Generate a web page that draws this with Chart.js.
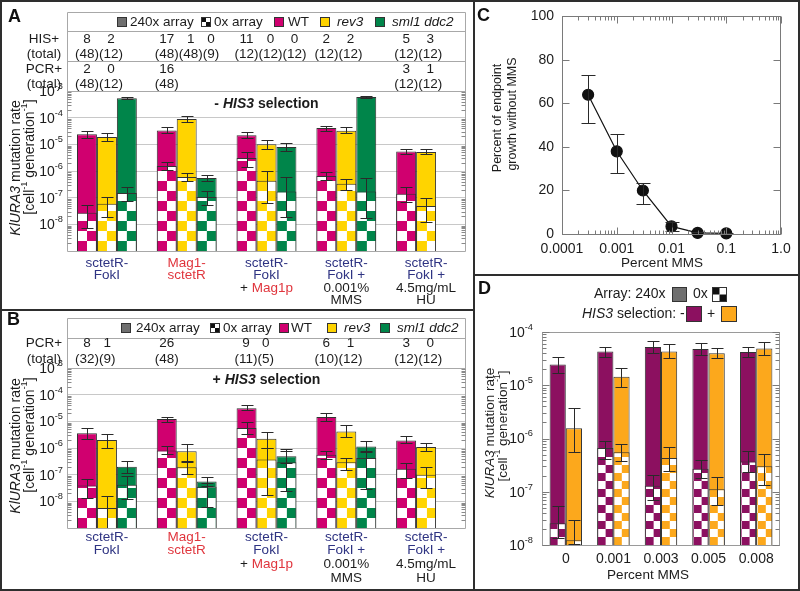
<!DOCTYPE html>
<html lang="en">
<head>
<meta charset="UTF-8">
<meta name="viewport" content="width=device-width, initial-scale=1.0">
<title>KlURA3 mutation rates near the tetO array</title>
<script src="https://cdn.jsdelivr.net/npm/chart.js"></script>
<style>
  body { margin: 0; background: #fff; }
  #figure { position: relative; width: 800px; height: 591px; overflow: hidden; background: #fff; }
  #figure canvas { position: absolute; }
  .rule { position: absolute; background: #2e2e2e; }
</style>
</head>
<body>
<div id="figure">
  <canvas id="chartA" width="473" height="310" style="left:0;top:0"></canvas>
  <canvas id="chartB" width="473" height="281" style="left:0;top:310px"></canvas>
  <canvas id="chartC" width="327" height="275" style="left:473px;top:0"></canvas>
  <canvas id="chartD" width="327" height="316" style="left:473px;top:275px"></canvas>
  <!-- panel frames -->
  <div class="rule" style="left:0;top:0;width:800px;height:2px"></div>
  <div class="rule" style="left:0;top:589px;width:800px;height:2px"></div>
  <div class="rule" style="left:0;top:0;width:2px;height:591px"></div>
  <div class="rule" style="left:798px;top:0;width:2px;height:591px"></div>
  <div class="rule" style="left:473px;top:0;width:2px;height:591px"></div>
  <div class="rule" style="left:0;top:309px;width:474px;height:2px"></div>
  <div class="rule" style="left:474px;top:274px;width:326px;height:2px"></div>
</div>

<script>
    const FONT = '"Liberation Sans", Arial, Helvetica, sans-serif';
    const INK = '#1c1c1c', EDGE = '#333333', BOX = '#a8a8a8', GRID = '#c8c8c8';
    const BLUE = '#2e3382', RED = '#e0353d';
    const WT_COLOR = '#d0006f', REV3_COLOR = '#ffd400', SML1_COLOR = '#00854a', ARRAY_GRAY = '#6f6f6f';
    const MINUS_COLOR = '#8c1060', PLUS_COLOR = '#fca81c';

    // ---------- categories and tick labels ----------
    const strains = ['sctetR-FokI', 'Mag1-sctetR', 'sctetR-FokI + Mag1p', 'sctetR-FokI + 0.001% MMS', 'sctetR-FokI + 4.5mg/mL HU'];
    // how each strain name is split and coloured under the bars
    const strainLines = [
        [[['sctetR-', BLUE]], [['FokI', BLUE]]],
        [[['Mag1-', RED]], [['sctetR', RED]]],
        [[['sctetR-', BLUE]], [['FokI', BLUE]], [['+ ', INK], ['Mag1p', RED]]],
        [[['sctetR-', BLUE]], [['FokI +', BLUE]], [['0.001%', INK]], [['MMS', INK]]],
        [[['sctetR-', BLUE]], [['FokI +', BLUE]], [['4.5mg/mL', INK]], [['HU', INK]]]
    ];
    const rateExponentsAB = [-3, -4, -5, -6, -7, -8];
    const rateExponentsD = [-4, -5, -6, -7, -8];
    const mmsLevels = ['0', '0.001', '0.003', '0.005', '0.008'];
    const mmsTicks = [0.0001, 0.001, 0.01, 0.1, 1];
    const mmsTickLabels = ['0.0001', '0.001', '0.01', '0.1', '1.0'];

    // ---------- panel A : - HIS3 selection ----------
    const aWT240 = [2.4e-5, 3.3e-5, 2.2e-5, 4.1e-5, 5.4e-6];
    const aWT240Err = [[1.7e-5, 3.2e-5], [2.7e-5, 4.5e-5], [1.7e-5, 2.9e-5], [3.2e-5, 4.9e-5], [4.4e-6, 6.7e-6]];
    const aWT0 = [2.7e-8, 1.55e-6, 3.1e-6, 6.5e-7, 1.4e-7];
    const aWT0Err = [[7.4e-9, 5.4e-8], [1.1e-6, 2.2e-6], [1.4e-6, 5.2e-6], [4.5e-7, 9e-7], [7e-8, 2.5e-7]];
    const aRev240 = [1.9e-5, 8.9e-5, 1.0e-5, 3.2e-5, 5.2e-6];
    const aRev240Err = [[1.35e-5, 2.7e-5], [6.9e-5, 1.15e-4], [6.8e-6, 1.45e-5], [2.6e-5, 4.5e-5], [4.2e-6, 6.5e-6]];
    const aRev0 = [5.9e-8, 6e-7, 4.3e-7, 3.3e-7, 4.9e-8];
    const aRev0Err = [[1.9e-8, 1.07e-7], [4.3e-7, 8.5e-7], [6.5e-8, 1e-6], [2e-7, 5e-7], [1.2e-8, 1e-7]];
    const aSml240 = [5.4e-4, 5.5e-7, 7.9e-6, 6e-4, null];
    const aSml240Err = [[5.0e-4, 5.8e-4], [4.3e-7, 7.1e-7], [5.6e-6, 1.1e-5], [5.6e-4, 6.5e-4], null];
    const aSml0 = [1.5e-7, 1.07e-7, 1.7e-7, 1.7e-7, null];
    const aSml0Err = [[7.6e-8, 2.5e-7], [5.4e-8, 1.8e-7], [1.9e-8, 6e-7], [1.8e-8, 5.5e-7], null];
    const aHisCounts = [['8', '2'], ['17', '1', '0'], ['11', '0', '0'], ['2', '2'], ['5', '3']];
    const aHisTotals = [['48', '12'], ['48', '48', '9'], ['12', '12', '12'], ['12', '12'], ['12', '12']];
    const aPcrCounts = [['2', '0'], ['16'], [], [], ['3', '1']];
    const aPcrTotals = [['48', '12'], ['48'], [], [], ['12', '12']];

    // ---------- panel B : + HIS3 selection ----------
    const bWT240 = [3.6e-6, 1.23e-5, 3.1e-5, 1.45e-5, 1.9e-6];
    const bWT240Err = [[2.2e-6, 5.6e-6], [9.2e-6, 1.45e-5], [2.6e-5, 4e-5], [1e-5, 2.1e-5], [1.5e-6, 2.7e-6]];
    const bWT0 = [3.9e-8, 8.1e-7, 5.6e-6, 5.6e-7, 1.65e-7];
    const bWT0Err = [[1.3e-8, 6.9e-8], [6.1e-7, 1.2e-6], [3.4e-6, 9.2e-6], [3.9e-7, 8e-7], [7.8e-8, 2.8e-7]];
    const bRev240 = [2e-6, 7.5e-7, 2.2e-6, 4.2e-6, 1.1e-6];
    const bRev240Err = [[1e-6, 3.4e-6], [2.9e-7, 1.4e-6], [1e-6, 3.9e-6], [2.6e-6, 7.1e-6], [7.8e-7, 1.6e-6]];
    const bRev0 = [5.6e-9, 1.9e-7, 3.7e-7, 2.9e-7, 1e-7];
    const bRev0Err = [[1e-9, 1.6e-8], [1.05e-7, 3.2e-7], [1.8e-8, 1e-6], [1.5e-7, 4.2e-7], [3.1e-8, 1.9e-7]];
    const bSml240 = [2e-7, 5.6e-8, 4.9e-7, 1.15e-6, null];
    const bSml240Err = [[1.2e-7, 3.2e-7], [3.6e-8, 7.9e-8], [2.7e-7, 9.4e-7], [7.1e-7, 1.9e-6], null];
    const bSml0 = [4.2e-8, 3.5e-8, 2.9e-7, 4.2e-7, null];
    const bSml0Err = [[1.2e-8, 9e-8], [6.1e-9, 4.7e-8], [2.5e-8, 7.5e-7], [2.9e-8, 7.4e-7], null];
    const bPcrCounts = [['8', '1'], ['26'], ['9', '0'], ['6', '1'], ['3', '0']];
    const bPcrTotals = [['32', '9'], ['48'], ['11', '5'], ['10', '12'], ['12', '12']];

    // ---------- panel C : growth in MMS ----------
    const mmsPercent = [0.0003, 0.001, 0.003, 0.01, 0.03, 0.1];
    const growthPct = [64, 38, 20, 3.5, 0.5, 0.3];
    const growthErr = [[51, 73], [28, 46], [14, 23.5], [1.5, 5.6], [0.2, 0.8], [0.1, 0.5]];

    // ---------- panel D : WT in MMS, - / + HIS3 selection ----------
    const dMinus240 = [2.46e-5, 4.3e-5, 5.2e-5, 4.8e-5, 4.2e-5];
    const dMinus240Err = [[1.7e-5, 3.35e-5], [3.4e-5, 5.3e-5], [4e-5, 6.9e-5], [3.7e-5, 6.1e-5], [3.4e-5, 5.2e-5]];
    const dMinus0 = [2.57e-8, 6.6e-7, 1.3e-7, 2.7e-7, 3.7e-7];
    const dMinus0Err = [[1.35e-8, 5.5e-8], [4.1e-7, 9.1e-7], [7.1e-8, 2.1e-7], [1.8e-7, 4e-7], [2.3e-7, 5.7e-7]];
    const dPlus240 = [1.55e-6, 1.45e-5, 4.3e-5, 4e-5, 4.9e-5];
    const dPlus240Err = [[5.5e-7, 3.7e-6], [9.4e-6, 2.1e-5], [3.2e-5, 5.9e-5], [3.2e-5, 4.9e-5], [3.7e-5, 6.6e-5]];
    const dPlus0 = [1.23e-8, 5.5e-7, 4.3e-7, 1.12e-7, 3e-7];
    const dPlus0Err = [[1.05e-8, 2.9e-8], [3.7e-7, 7.9e-7], [2.5e-7, 6.9e-7], [5.6e-8, 1.9e-7], [1.35e-7, 5.1e-7]];

    const legendItems = [
        { text: '240x array', fill: ARRAY_GRAY },
        { text: '0x array', fill: null },
        { text: 'WT', fill: WT_COLOR },
        { text: 'rev3', fill: REV3_COLOR, italic: true },
        { text: 'sml1 ddc2', fill: SML1_COLOR, italic: true }
    ];
    const rateTitle1 = [{ t: 'KlURA3', i: 1 }, { t: ' mutation rate' }];
    const rateTitle2 = [{ t: '[cell' }, { t: '-1', sup: 1 }, { t: ' generation' }, { t: '-1', sup: 1 }, { t: ']' }];

    // ---------- drawing helpers ----------
    function partFont(p, size) {
        return (p.i ? 'italic ' : '') + (p.b ? 'bold ' : '') + (p.sup ? size * 0.66 : size) + 'px ' + FONT;
    }

    function drawRich(c, parts, x, y, align, size) {
        let w = 0;
        parts.forEach(p => { c.font = partFont(p, size); w += c.measureText(p.t).width; });
        let cx = align === 'center' ? x - w / 2 : (align === 'right' ? x - w : x);
        c.textAlign = 'left';
        c.textBaseline = 'middle';
        parts.forEach(p => {
            c.font = partFont(p, size);
            c.fillStyle = p.c || INK;
            c.fillText(p.t, cx, p.sup ? y - size * 0.4 : y);
            cx += c.measureText(p.t).width;
        });
    }

    function drawRotated(c, parts, x, y, size) {
        c.save();
        c.translate(x, y);
        c.rotate(-Math.PI / 2);
        drawRich(c, parts, 0, 0, 'center', size);
        c.restore();
    }

    function swatch(c, x, y, s, fill) {
        if (fill) {
            c.fillStyle = fill;
            c.fillRect(x, y, s, s);
        } else {
            c.fillStyle = '#fff';
            c.fillRect(x, y, s, s);
            c.fillStyle = '#111';
            c.fillRect(x, y, s / 2, s / 2);
            c.fillRect(x + s / 2, y + s / 2, s / 2, s / 2);
        }
        c.strokeStyle = '#333';
        c.lineWidth = 1;
        c.strokeRect(x + 0.5, y + 0.5, s - 1, s - 1);
    }

    function letter(c, ch, x, y) {
        c.font = 'bold 18px ' + FONT;
        c.fillStyle = '#111';
        c.textAlign = 'left';
        c.textBaseline = 'alphabetic';
        c.fillText(ch, x, y);
    }

    function checkerPattern(color, sq) {
        const cv = document.createElement('canvas');
        cv.width = cv.height = sq * 2;
        const g = cv.getContext('2d');
        g.fillStyle = '#fff';
        g.fillRect(0, 0, sq * 2, sq * 2);
        g.fillStyle = color;
        g.fillRect(sq, 0, sq, sq);
        g.fillRect(0, sq, sq, sq);
        return g.createPattern(cv, 'repeat');
    }

    function decades(lo, hi) {
        const out = [];
        for (let e = lo; e <= hi; e++) out.push({ value: Math.pow(10, e) });
        return out;
    }

    // line the checker squares up with the left edge and foot of each bar
    const checkerAlign = {
        id: 'checkerAlign',
        beforeDatasetsDraw(chart) {
            chart.data.datasets.forEach((ds, di) => {
                if (!ds.checker) return;
                const el = chart.getDatasetMeta(di).data.find(d => d && isFinite(d.x));
                if (!el) return;
                ds.backgroundColor.setTransform(new DOMMatrix().translate(el.x - el.width / 2, chart.chartArea.bottom));
            });
        }
    };

    const errorBars = {
        id: 'errorBars',
        afterDatasetsDraw(chart) {
            const c = chart.ctx, a = chart.chartArea, ys = chart.scales.y;
            c.save();
            c.beginPath();
            c.rect(a.left, a.top - 2, a.right - a.left, a.bottom - a.top + 3);
            c.clip();
            c.strokeStyle = '#2a2a2a';
            c.lineWidth = 1;
            chart.data.datasets.forEach((ds, di) => {
                if (!ds.errors) return;
                const meta = chart.getDatasetMeta(di);
                const half = (ds.capWidth || 12) / 2;
                ds.errors.forEach((e, i) => {
                    const el = meta.data[i];
                    if (!e || !el) return;
                    const x = Math.round(el.x) + 0.5;
                    const y1 = Math.round(ys.getPixelForValue(e[0])) + 0.5;
                    const y2 = Math.round(ys.getPixelForValue(e[1])) + 0.5;
                    c.beginPath();
                    c.moveTo(x, y1); c.lineTo(x, y2);
                    c.moveTo(x - half, y1); c.lineTo(x + half, y1);
                    c.moveTo(x - half, y2); c.lineTo(x + half, y2);
                    c.stroke();
                });
            });
            c.restore();
        }
    };

    function barDatasets(genotypes, yMin, sq, cap) {
        const list = [];
        genotypes.forEach(g => list.push({
            label: g.name + ' 0x array', stack: g.name, order: 0, checker: true,
            data: g.v0.map(v => v == null ? null : [yMin, v]),
            backgroundColor: checkerPattern(g.color, sq),
            borderColor: EDGE, borderWidth: 1, errors: g.e0, capWidth: cap
        }));
        genotypes.forEach(g => list.push({
            label: g.name + ' 240x array', stack: g.name, order: 1,
            data: g.v240.map(v => v == null ? null : [yMin, v]),
            backgroundColor: g.color,
            borderColor: EDGE, borderWidth: 1, errors: g.e240, capWidth: cap
        }));
        return list;
    }

    // legend strip, count table, axis text for panels A and B
    function drawMutationDecor(chart, o) {
        const c = chart.ctx, a = chart.chartArea, xs = chart.scales.x, ys = chart.scales.y;
        const L = Math.round(a.left) + 0.5, R = Math.round(a.right) - 0.5, B = Math.round(a.bottom) + 0.5;
        c.save();
        c.lineWidth = 1;
        c.strokeStyle = BOX;
        c.beginPath();
        c.moveTo(L, o.boxTop + 0.5); c.lineTo(R, o.boxTop + 0.5); c.lineTo(R, B); c.lineTo(L, B); c.closePath();
        o.rowLines.concat([Math.round(a.top)]).forEach(v => { c.moveTo(L, v + 0.5); c.lineTo(R, v + 0.5); });
        c.stroke();

        // minor log ticks, inside both edges
        c.strokeStyle = '#8a8a8a';
        c.beginPath();
        for (let e = -9; e < -3; e++) {
            for (let k = 2; k < 10; k++) {
                const py = Math.round(ys.getPixelForValue(k * Math.pow(10, e))) + 0.5;
                c.moveTo(L, py); c.lineTo(L + 4, py);
                c.moveTo(R, py); c.lineTo(R - 4, py);
            }
        }
        c.stroke();

        rateExponentsAB.forEach(e => {
            drawRich(c, [{ t: '10' }, { t: String(e), sup: 1 }], a.left - 4, ys.getPixelForValue(Math.pow(10, e)) + 1, 'right', 14);
        });
        drawRotated(c, rateTitle1, 16, o.title1Y, 14);
        drawRotated(c, rateTitle2, 30, o.title2Y, 14);
        drawRich(c, o.title, (a.left + a.right) / 2, a.top + o.titleDy, 'center', 14);

        // legend strip
        legendItems.forEach((it, i) => {
            swatch(c, o.swatchX[i], o.legendY - 5, 10, it.fill);
            drawRich(c, [{ t: it.text, i: it.italic }], o.textX[i], o.legendY, 'left', 13.5);
        });

        // HIS+ / PCR+ counts over their totals
        const firstBars = chart.getDatasetMeta(0).data;
        o.rows.forEach(row => {
            drawRich(c, [{ t: row.name }], 44, row.y[0], 'center', 13.5);
            drawRich(c, [{ t: '(total)' }], 44, row.y[1], 'center', 13.5);
            row.totals.forEach((tot, g) => {
                const el = firstBars[g];
                let cx = el.x - el.width / 2 - 2;
                tot.forEach((t, j) => {
                    c.font = '13.5px ' + FONT;
                    const s = '(' + t + ')', w = c.measureText(s).width;
                    drawRich(c, [{ t: s }], cx, row.y[1], 'left', 13.5);
                    drawRich(c, [{ t: row.counts[g][j] }], cx + w / 2, row.y[0], 'center', 13.5);
                    cx += w;
                });
            });
        });

        // strain names under the groups
        strainLines.forEach((lines, g) => {
            const px = xs.getPixelForValue(g);
            lines.forEach((segs, k) => {
                drawRich(c, segs.map(s => ({ t: s[0], c: s[1] })), px, a.bottom + o.catTop + k * o.catStep, 'center', 13.5);
            });
        });
        letter(c, o.letter, o.letterX, o.letterY);
        c.restore();
    }

    function mutationPanel(id, genotypes, o) {
        return new Chart(document.getElementById(id), {
            type: 'bar',
            data: { labels: strains, datasets: barDatasets(genotypes, 1e-9, 10, 12) },
            options: {
                responsive: false, animation: false, devicePixelRatio: 1,
                layout: { padding: o.padding },
                datasets: { bar: { categoryPercentage: 0.75, barPercentage: 1 } },
                plugins: { legend: { display: false }, tooltip: { enabled: false } },
                scales: {
                    x: {
                        stacked: true,
                        afterFit: s => { s.height = 0; },
                        ticks: { display: false },
                        grid: { display: false, drawTicks: false },
                        border: { display: false }
                    },
                    y: {
                        type: 'logarithmic', min: 1e-9, max: 1e-3, stacked: false,
                        afterFit: s => { s.width = 0; },
                        afterBuildTicks: s => { s.ticks = decades(-9, -3); },
                        ticks: { display: false },
                        grid: {
                            drawTicks: false,
                            color: ctx => (ctx.tick && ctx.tick.value > 2e-9 && ctx.tick.value < 5e-4) ? GRID : 'rgba(0,0,0,0)'
                        },
                        border: { display: false }
                    }
                }
            },
            plugins: [checkerAlign, errorBars, { id: 'decor' + id, afterDraw: chart => drawMutationDecor(chart, o) }]
        });
    }

    const genotypesA = [
        { name: 'WT', color: WT_COLOR, v240: aWT240, e240: aWT240Err, v0: aWT0, e0: aWT0Err },
        { name: 'rev3', color: REV3_COLOR, v240: aRev240, e240: aRev240Err, v0: aRev0, e0: aRev0Err },
        { name: 'sml1 ddc2', color: SML1_COLOR, v240: aSml240, e240: aSml240Err, v0: aSml0, e0: aSml0Err }
    ];
    const genotypesB = [
        { name: 'WT', color: WT_COLOR, v240: bWT240, e240: bWT240Err, v0: bWT0, e0: bWT0Err },
        { name: 'rev3', color: REV3_COLOR, v240: bRev240, e240: bRev240Err, v0: bRev0, e0: bRev0Err },
        { name: 'sml1 ddc2', color: SML1_COLOR, v240: bSml240, e240: bSml240Err, v0: bSml0, e0: bSml0Err }
    ];

    mutationPanel('chartA', genotypesA, {
        padding: { left: 67, right: 7, top: 91, bottom: 59 },
        boxTop: 12, rowLines: [31, 61], legendY: 22,
        swatchX: [117, 201, 274, 320, 375], textX: [130, 214, 288, 337, 392],
        rows: [
            { name: 'HIS+', counts: aHisCounts, totals: aHisTotals, y: [39, 54] },
            { name: 'PCR+', counts: aPcrCounts, totals: aPcrTotals, y: [69, 84] }
        ],
        title: [{ t: '- ', b: 1 }, { t: 'HIS3', b: 1, i: 1 }, { t: ' selection', b: 1 }], titleDy: 13,
        title1Y: 168, title2Y: 157, catTop: 12, catStep: 12.5,
        letter: 'A', letterX: 8, letterY: 22
    });

    mutationPanel('chartB', genotypesB, {
        padding: { left: 67, right: 7, top: 58, bottom: 63 },
        boxTop: 8, rowLines: [28], legendY: 18,
        swatchX: [121, 210, 279, 327, 380], textX: [136, 223, 291, 344, 397],
        rows: [
            { name: 'PCR+', counts: bPcrCounts, totals: bPcrTotals, y: [33, 49] }
        ],
        title: [{ t: '+ ', b: 1 }, { t: 'HIS3', b: 1, i: 1 }, { t: ' selection', b: 1 }], titleDy: 12,
        title1Y: 136, title2Y: 125, catTop: 9, catStep: 13.7,
        letter: 'B', letterX: 7, letterY: 15
    });

    // ---------- panel C ----------
    new Chart(document.getElementById('chartC'), {
        type: 'scatter',
        data: {
            datasets: [{
                label: 'Percent of endpoint growth without MMS',
                data: mmsPercent.map((v, i) => ({ x: v, y: growthPct[i] })),
                showLine: true, clip: false,
                borderColor: '#111', borderWidth: 1.2,
                pointRadius: 5.5, pointBackgroundColor: '#111', pointBorderColor: '#111',
                errors: growthErr, capWidth: 14
            }]
        },
        options: {
            responsive: false, animation: false, devicePixelRatio: 1,
            layout: { padding: { left: 0, right: 19, top: 15, bottom: 0 } },
            plugins: { legend: { display: false }, tooltip: { enabled: false } },
            scales: {
                x: {
                    type: 'logarithmic', min: 0.0001, max: 1,
                    afterFit: s => { s.height = 41; },
                    afterBuildTicks: s => { s.ticks = mmsTicks.map(v => ({ value: v })); },
                    ticks: {
                        callback: (v, i) => mmsTickLabels[i], autoSkip: false, maxRotation: 0,
                        font: { family: FONT, size: 14 }, color: INK, padding: 7
                    },
                    grid: { display: false, drawTicks: false },
                    border: { display: false }
                },
                y: {
                    min: 0, max: 100,
                    afterFit: s => { s.width = 89; },
                    ticks: { stepSize: 20, font: { family: FONT, size: 14 }, color: INK, padding: 8 },
                    grid: { display: false, drawTicks: false },
                    border: { display: false }
                }
            }
        },
        plugins: [errorBars, {
            id: 'decorC',
            afterDraw(chart) {
                const c = chart.ctx, a = chart.chartArea, xs = chart.scales.x, ys = chart.scales.y;
                const L = Math.round(a.left) + 0.5, R = Math.round(a.right) - 0.5;
                const T = Math.round(a.top) + 0.5, B = Math.round(a.bottom) + 0.5;
                c.save();
                c.strokeStyle = '#7a7a7a';
                c.lineWidth = 1;
                c.strokeRect(L, T, R - L, B - T);
                c.beginPath();
                for (let e = -4; e <= 0; e++) {
                    for (let k = 1; k < 10; k++) {
                        const v = k * Math.pow(10, e);
                        if (v > 1.0001) break;
                        const px = Math.round(xs.getPixelForValue(v)) + 0.5, len = k === 1 ? 7 : 4;
                        c.moveTo(px, B); c.lineTo(px, B - len);
                        c.moveTo(px, T); c.lineTo(px, T + len);
                    }
                }
                ys.ticks.forEach(t => {
                    const py = Math.round(ys.getPixelForValue(t.value)) + 0.5;
                    c.moveTo(L, py); c.lineTo(L + 7, py);
                    c.moveTo(R, py); c.lineTo(R - 7, py);
                });
                c.stroke();
                drawRotated(c, [{ t: 'Percent of endpoint' }], 25, 118, 12.5);
                drawRotated(c, [{ t: 'growth without MMS' }], 40, 114, 12.5);
                drawRich(c, [{ t: 'Percent MMS' }], 189, 263, 'center', 13.5);
                letter(c, 'C', 4, 21);
                c.restore();
            }
        }]
    });

    // ---------- panel D ----------
    const genotypesD = [
        { name: '- HIS3', color: MINUS_COLOR, v240: dMinus240, e240: dMinus240Err, v0: dMinus0, e0: dMinus0Err },
        { name: '+ HIS3', color: PLUS_COLOR, v240: dPlus240, e240: dPlus240Err, v0: dPlus0, e0: dPlus0Err }
    ];

    new Chart(document.getElementById('chartD'), {
        type: 'bar',
        data: { labels: mmsLevels, datasets: barDatasets(genotypesD, 1e-8, 8, 12) },
        options: {
            responsive: false, animation: false, devicePixelRatio: 1,
            layout: { padding: { left: 69, right: 20, top: 57, bottom: 0 } },
            datasets: { bar: { categoryPercentage: 0.68, barPercentage: 1 } },
            plugins: { legend: { display: false }, tooltip: { enabled: false } },
            scales: {
                x: {
                    stacked: true,
                    afterFit: s => { s.height = 46; },
                    ticks: { font: { family: FONT, size: 14 }, color: INK, padding: 6, maxRotation: 0 },
                    grid: { display: false, drawTicks: false },
                    border: { display: false }
                },
                y: {
                    type: 'logarithmic', min: 1e-8, max: 1e-4, stacked: false,
                    afterFit: s => { s.width = 0; },
                    afterBuildTicks: s => { s.ticks = decades(-8, -4); },
                    ticks: { display: false },
                    grid: { display: false, drawTicks: false },
                    border: { display: false }
                }
            }
        },
        plugins: [checkerAlign, errorBars, {
            id: 'decorD',
            afterDraw(chart) {
                const c = chart.ctx, a = chart.chartArea, ys = chart.scales.y;
                const L = Math.round(a.left) + 0.5, R = Math.round(a.right) - 0.5;
                const T = Math.round(a.top) + 0.5, B = Math.round(a.bottom) + 0.5;
                c.save();
                c.strokeStyle = '#9a9a9a';
                c.lineWidth = 1;
                c.strokeRect(L, T, R - L, B - T);
                c.strokeStyle = '#7a7a7a';
                c.beginPath();
                for (let e = -8; e <= -4; e++) {
                    for (let k = 1; k < 10; k++) {
                        if (e === -4 && k > 1) break;
                        const py = Math.round(ys.getPixelForValue(k * Math.pow(10, e))) + 0.5, len = k === 1 ? 7 : 4;
                        c.moveTo(L, py); c.lineTo(L + len, py);
                        c.moveTo(R, py); c.lineTo(R - len, py);
                    }
                }
                c.stroke();
                rateExponentsD.forEach(e => {
                    drawRich(c, [{ t: '10' }, { t: String(e), sup: 1 }], a.left - 9, ys.getPixelForValue(Math.pow(10, e)) + 1, 'right', 14);
                });
                drawRotated(c, rateTitle1, 17, 158, 13.5);
                drawRotated(c, rateTitle2, 30, 151, 13.5);
                drawRich(c, [{ t: 'Percent MMS' }], 175, 300, 'center', 13.5);

                // legend
                drawRich(c, [{ t: 'Array: 240x' }], 121, 19, 'left', 14);
                swatch(c, 199, 12, 15, ARRAY_GRAY);
                drawRich(c, [{ t: '0x' }], 220, 19, 'left', 14);
                swatch(c, 239, 12, 15, null);
                drawRich(c, [{ t: 'HIS3', i: 1 }, { t: ' selection: -' }], 109, 39, 'left', 14);
                swatch(c, 213, 31, 16, MINUS_COLOR);
                drawRich(c, [{ t: '+' }], 234, 39, 'left', 14);
                swatch(c, 248, 31, 16, PLUS_COLOR);
                letter(c, 'D', 5, 19);
                c.restore();
            }
        }]
    });
</script>
</body>
</html>
